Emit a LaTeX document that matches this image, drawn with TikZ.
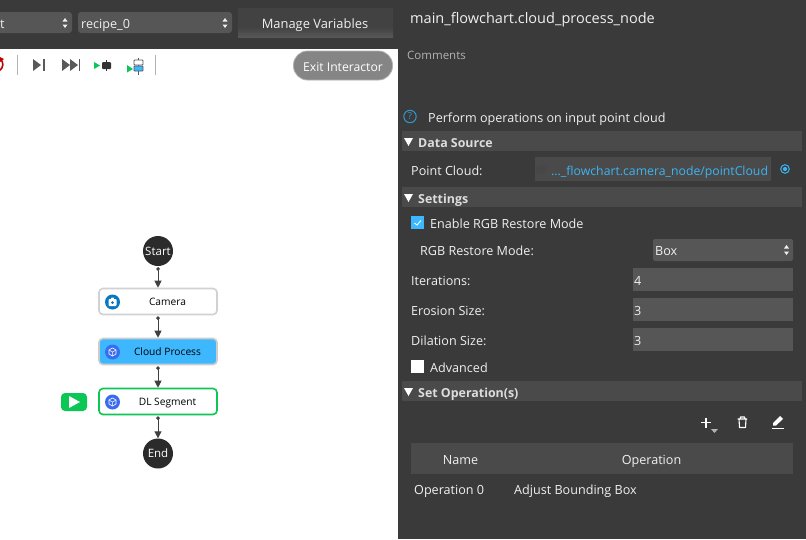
\documentclass[tikz,border=0pt]{standalone}
\usepackage{fontspec}
\setmainfont{Open Sans}
\usetikzlibrary{arrows.meta,positioning}
\definecolor{panel}{HTML}{3A3A3A}
\definecolor{band}{HTML}{4A4A4A}
\definecolor{field}{HTML}{565656}
\definecolor{txt}{HTML}{F0F0F0}
\definecolor{linkc}{HTML}{3DB4F2}
\definecolor{ndark}{HTML}{2B2B2B}
\definecolor{sel}{HTML}{3DB8FF}
\definecolor{grn}{HTML}{0CC656}
\definecolor{iconb}{HTML}{3A6CF0}
\definecolor{iconc}{HTML}{0A78C0}
\tikzset{
  x=1pt,y=-1pt,
  lab/.style={font=\fontsize{12.6}{14}\selectfont,text=txt,inner sep=0pt,anchor=west,text height=11.5pt,text depth=1pt},
  boldlab/.style={lab,font=\fontsize{12.4}{14}\selectfont\bfseries,text=txt!92!black},
  secband/.style={fill=band,draw=none},
  fieldbox/.style={fill=field,draw=none},
  termnode/.style={circle,fill=ndark,minimum size=30pt,inner sep=0pt,text=white,font=\fontsize{11.5}{13}\selectfont,text height=8.5pt,text depth=0pt},
  flownode/.style={rounded corners=4pt,draw=#1,line width=1.6pt,minimum width=118pt,minimum height=26pt,inner sep=0pt,font=\fontsize{10.2}{12}\selectfont,text=black,text height=9pt,text depth=1pt},
  flow/.style={draw=black!75,line width=1pt,{Circle[length=3.5pt]}-{Triangle[length=7pt,width=7pt]},shorten <=1pt},
  tri/.style={fill=white,draw=none},
  tool/.style={fill=black!65,draw=none},
}
\begin{document}
\begin{tikzpicture}
\useasboundingbox (0,0) rectangle (806,539);
\fill[panel] (0,0) rectangle (806,539);
% canvas
\fill[white] (0,49) rectangle (398,539);
% top bar
\fill[field,rounded corners=3pt] (-6,12) rectangle (72,33);
\fill[field,rounded corners=3pt] (78,12) rectangle (232,33);
\node[lab] (comboA) at (0,23) {t};
\node[lab] (comboB) at (81,23) {recipe\_0};
\foreach \cx in {65,225}{
  \fill[txt] (\cx-2.5,21.5) -- (\cx+2.5,21.5) -- (\cx,18) -- cycle;
  \fill[txt] (\cx-2.5,24.5) -- (\cx+2.5,24.5) -- (\cx,28) -- cycle;
}
\fill[black!74] (238,8) rectangle (393,37);
\shade[top color=black!74,bottom color=black!66] (238,27) rectangle (393,37);
\node[lab,anchor=center,font=\fontsize{12.9}{14}\selectfont] (manage) at (315,23) {Manage Variables};
\node[lab,font=\fontsize{14.5}{16}\selectfont,text height=14pt,text depth=1pt] (title) at (410,17) {main\_flowchart.cloud\_process\_node};
% toolbar
\draw[black!30,line width=.8pt] (17.5,55) -- (17.5,75) (155.5,55) -- (155.5,75);
\draw[red!75!black,line width=1.6pt] (0,59.5) .. controls (4,61) and (4,68) .. (-1,71);
\fill[red!75!black] (0,57) -- (4,59) -- (0,62) -- cycle;
\fill[tool] (33,59) -- (41,65) -- (33,71) -- cycle; \fill[tool] (42.5,59) rectangle (44.5,71);
\fill[tool] (62,59) -- (70,65) -- (62,71) -- cycle; \fill[tool] (70,59) -- (78,65) -- (70,71) -- cycle; \fill[tool] (78.5,59) rectangle (80,71);
\fill[grn] (94,62) -- (100,65.5) -- (94,69) -- cycle;
\fill[black!80] (106,60) rectangle (107,71);\fill[black!80,rounded corners=1pt] (102,62) rectangle (111,69);
\fill[grn] (127,65) -- (133,69) -- (127,72.5) -- cycle;
\draw[black!65,line width=.9pt] (138.5,58) -- (138.5,75);
\draw[black!65,fill=white,line width=.8pt,rounded corners=.8pt] (134,60) rectangle (143,65);
\draw[black!65,fill=sel,line width=.8pt,rounded corners=.8pt] (134,66) rectangle (143,71);
\node[fill=black!48,draw=black!30,line width=.8pt,rounded corners=14pt,minimum width=99pt,minimum height=29pt,inner sep=0pt,text=white,font=\fontsize{12.2}{14}\selectfont,text height=12pt,text depth=0pt] (exit) at (343,65.5) {Exit Interactor};
% flow
\node[termnode] (start) at (158,251) {Start};
\node[flownode=black!18,fill=white] (camera) at (158,301.5) {\hspace{19pt}Camera};
\node[flownode=black!20,fill=sel] (cloud) at (158,351.5) {\hspace{19pt}Cloud Process};
\node[flownode=grn,fill=white] (dl) at (158,401.5) {\hspace{19pt}DL Segment};
\node[termnode] (end) at (158,453.5) {End};
\draw[flow] (start) -- (camera);
\draw[flow] (camera) -- (cloud);
\draw[flow] (cloud) -- (dl);
\draw[flow] (dl) -- (end);
% node icons
\fill[iconc] (112.5,302) circle (7.5);
\fill[white,rounded corners=.8pt] (108.5,299) rectangle (116.5,306);
\fill[white] (110.5,299.5) -- (111.5,297.5) -- (113.5,297.5) -- (114.5,299.5) -- cycle;
\fill[iconc] (112.5,302.5) circle (1.5);
\foreach \iy in {352,402}{
  \fill[iconb] (112.5,\iy) circle (7.5);
  \draw[white,line width=.6pt] (112.5,\iy-4) -- (116,\iy-2) -- (116,\iy+2) -- (112.5,\iy+4) -- (109,\iy+2) -- (109,\iy-2) -- cycle;
  \draw[white,line width=.5pt] (109,\iy-2) -- (112.5,\iy) -- (116,\iy-2) (112.5,\iy) -- (112.5,\iy+4);
}
\fill[grn,rounded corners=4pt] (61,393) rectangle (87,411);
\fill[white] (69,396) -- (80,402) -- (69,408) -- cycle;
% right panel
\node[lab,font=\fontsize{11.5}{13}\selectfont,text=black!30] (comments) at (407,54.5) {Comments};
\draw[linkc!85!black,line width=1pt] (410,116.5) circle (6.2);
\node[font=\fontsize{9.5}{10}\selectfont,text=linkc!85!black,inner sep=0pt] (help) at (410,116.5) {?};
\node[lab] (desc) at (428,117) {Perform operations on input point cloud};
\fill[secband] (402,131) rectangle (802,151);
\fill[tri] (404,138) -- (413,138) -- (408.5,146) -- cycle;
\node[boldlab] (s1) at (418,142.5) {Data Source};
\node[lab] (pc) at (411,170) {Point Cloud:};
\fill[band] (535,157) rectangle (771,181);
\node[lab,text=linkc,font=\fontsize{12.25}{14}\selectfont] (pcv) at (551,170) {...\_flowchart.camera\_node/pointCloud};
\fill[black!72,rounded corners=1pt] (536,166) rectangle (546,174);
\fill[black!72] (539,166) -- (540,164.5) -- (543,164.5) -- (544,166) -- cycle;
\draw[linkc,line width=1pt] (785,169) circle (4.3);
\fill[linkc] (785,169) circle (2.1);
\fill[secband] (402,187) rectangle (802,207);
\fill[tri] (404,194) -- (413,194) -- (408.5,202) -- cycle;
\node[boldlab] (s2) at (418,198.5) {Settings};
\fill[sel] (411,216) rectangle (424,229);
\draw[white,line width=.9pt] (414.5,223) -- (417,225) -- (421,220.5);
\node[lab] (en) at (430,223) {Enable RGB Restore Mode};
\node[lab] (mode) at (420,250) {RGB Restore Mode:};
\fill[field,rounded corners=2pt] (653,239) rectangle (793,261);
\node[lab] (box) at (655,250) {Box};
\fill[txt] (784,248.5) -- (789,248.5) -- (786.5,245) -- cycle;
\fill[txt] (784,251.5) -- (789,251.5) -- (786.5,255) -- cycle;
\node[lab] (it) at (411,280) {Iterations:};
\fill[fieldbox] (633,268) rectangle (793,291);
\node[lab] (itv) at (634,280) {4};
\node[lab] (er) at (411,310) {Erosion Size:};
\fill[fieldbox] (633,298) rectangle (793,321);
\node[lab] (erv) at (634,310) {3};
\node[lab] (di) at (411,340) {Dilation Size:};
\fill[fieldbox] (633,328) rectangle (793,351);
\node[lab] (div) at (634,340) {3};
\fill[white] (411,360) rectangle (424,373);
\node[lab] (adv) at (430,367) {Advanced};
\fill[secband] (402,381) rectangle (802,401);
\fill[tri] (404,388) -- (413,388) -- (408.5,396) -- cycle;
\node[boldlab] (s3) at (418,392.5) {Set Operation(s)};
% op icons
\draw[white,line width=1.1pt] (701,422.5) -- (711,422.5) (706,417.5) -- (706,427.5);
\fill[black!30] (711,429) -- (718,429) -- (714.5,433) -- cycle;
\draw[white,line width=1.1pt,line join=round] (737.5,419) -- (747,419) (739,419) -- (739.5,427.5) -- (745.5,427.5) -- (746,419) (740,419) -- (740.5,417) -- (744.5,417) -- (745,419);
\draw[white,line width=1.2pt] (772,428.5) -- (784,428.5);
\fill[white] (773,425.5) -- (773,423) -- (780,416) -- (783,419) -- (776,425.5) -- cycle;
\fill[band] (411,443) rectangle (793,474);
\node[lab,anchor=center] (hname) at (460.5,459) {Name};
\node[lab,anchor=center] (hop) at (651.5,459) {Operation};
\node[lab] (op0) at (414,489) {Operation 0};
\node[lab] (opv) at (514,489) {Adjust Bounding Box};
\end{tikzpicture}
\end{document}
